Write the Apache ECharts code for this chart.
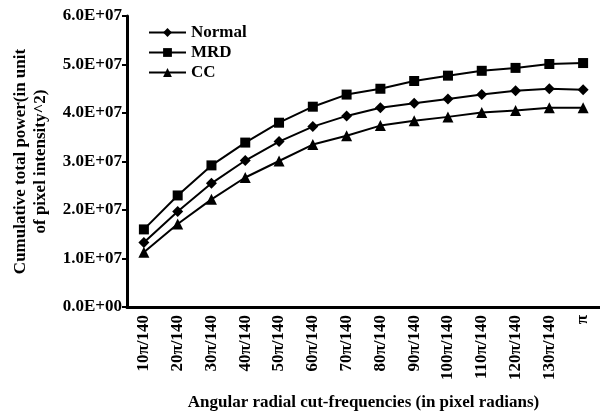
<!DOCTYPE html>
<html>
<head>
<meta charset="utf-8">
<script src="https://cdn.jsdelivr.net/npm/echarts@6/dist/echarts.min.js"></script>
<style>
  html, body { margin: 0; padding: 0; background: #fff; }
  #main { width: 600px; height: 416px; }
</style>
</head>
<body>
<div id="main"></div>
<script>
// cut-frequency categories
var categories = ['10π/140', '20π/140', '30π/140', '40π/140', '50π/140', '60π/140', '70π/140',
  '80π/140', '90π/140', '100π/140', '110π/140', '120π/140', '130π/140', 'π'];

// cumulative total power
var normalData = [1.33e7, 1.97e7, 2.55e7, 3.02e7, 3.41e7, 3.72e7, 3.94e7, 4.11e7, 4.20e7, 4.29e7, 4.38e7, 4.46e7, 4.50e7, 4.48e7];
var mrdData = [1.60e7, 2.30e7, 2.92e7, 3.39e7, 3.80e7, 4.13e7, 4.38e7, 4.50e7, 4.66e7, 4.77e7, 4.87e7, 4.93e7, 5.01e7, 5.03e7];
var ccData = [1.13e7, 1.71e7, 2.22e7, 2.67e7, 3.01e7, 3.35e7, 3.53e7, 3.74e7, 3.84e7, 3.92e7, 4.01e7, 4.05e7, 4.11e7, 4.11e7];

var yTickLabels = ['0.0E+00', '1.0E+07', '2.0E+07', '3.0E+07', '4.0E+07', '5.0E+07', '6.0E+07'];

var font = 'Liberation Serif';

function makeSeries(name, symbol, data) {
  return {
    name: name,
    type: 'line',
    data: data,
    symbol: symbol,
    symbolSize: symbol === 'rect' ? 10 : 11,
    lineStyle: { color: '#000', width: 2 },
    itemStyle: { color: '#000' },
    animation: false
  };
}

var chart = echarts.init(document.getElementById('main'));
var option = {
  backgroundColor: '#fff',
  textStyle: { fontFamily: font },
  legend: {
    orient: 'vertical',
    left: 143,
    top: 19,
    itemWidth: 37,
    itemHeight: 11,
    itemGap: 3,
    textStyle: { fontFamily: font, fontSize: 17, fontWeight: 'bold', color: '#000' },
    data: ['Normal', 'MRD', 'CC']
  },
  grid: {
    left: 127,
    right: -5,
    top: 16,
    bottom: 108
  },
  xAxis: {
    type: 'category',
    data: categories,
    boundaryGap: true,
    name: 'Angular radial cut-frequencies (in pixel radians)',
    nameLocation: 'middle',
    nameGap: 87,
    nameTextStyle: { fontFamily: font, fontSize: 17, fontWeight: 'bold', color: '#000' },
    axisLine: { lineStyle: { color: '#000', width: 3 } },
    axisTick: { interval: 0, length: 5, lineStyle: { color: '#000', width: 2 } },
    axisLabel: {
      interval: 0,
      rotate: 90,
      margin: 8,
      fontFamily: font,
      fontSize: 17,
      fontWeight: 'bold',
      color: '#000'
    },
    splitLine: { show: false }
  },
  yAxis: {
    type: 'value',
    min: 0,
    max: 6e7,
    interval: 1e7,
    name: 'Cumulative total power(in unit\nof pixel intensity^2)',
    nameLocation: 'middle',
    nameRotate: 90,
    nameGap: 76,
    nameTextStyle: { fontFamily: font, fontSize: 17, fontWeight: 'bold', color: '#000', lineHeight: 20 },
    axisLine: { show: true, lineStyle: { color: '#000', width: 3 } },
    axisTick: { show: true, length: 5, lineStyle: { color: '#000', width: 2 } },
    axisLabel: {
      margin: 5,
      fontFamily: font,
      fontSize: 17,
      fontWeight: 'bold',
      color: '#000',
      formatter: function (v) { return yTickLabels[Math.round(v / 1e7)]; }
    },
    splitLine: { show: false }
  },
  series: [
    makeSeries('Normal', 'diamond', normalData),
    makeSeries('MRD', 'rect', mrdData),
    makeSeries('CC', 'triangle', ccData)
  ]
};
chart.setOption(option);
</script>
</body>
</html>
